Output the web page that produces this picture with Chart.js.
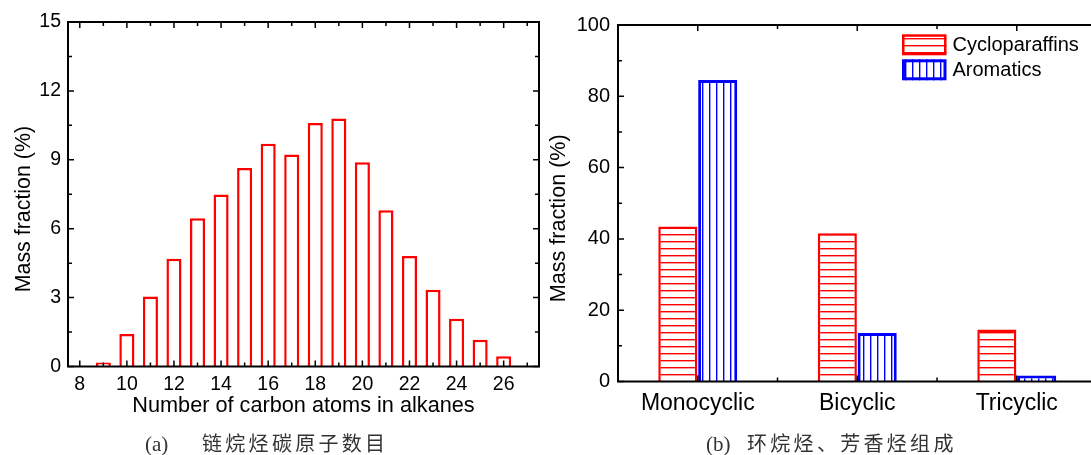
<!DOCTYPE html>
<html>
<head>
<meta charset="utf-8">
<script src="https://cdn.jsdelivr.net/npm/chart.js@4.4.0/dist/chart.umd.min.js"></script>
<style>
  html, body { margin: 0; padding: 0; background: #fff; width: 1091px; height: 455px; overflow: hidden; position: relative; }
  #wrapA { position: absolute; left: 0; top: 0; width: 545px; height: 455px; }
  #wrapB { position: absolute; left: 545px; top: 0; width: 570px; height: 455px; }
  .cap { position: absolute; white-space: nowrap; color: #333; }
  .lat { font-family: 'Liberation Serif', serif; font-size: 21px; line-height: 21px; top: 434px; }
  .cjk { font-family: 'Noto Sans CJK SC', sans-serif; font-size: 20px; line-height: 20px; top: 433px; letter-spacing: 3.3px; }
</style>
</head>
<body>
<div id="wrapA"><canvas id="chartA" width="545" height="455"></canvas></div>
<div id="wrapB"><canvas id="chartB" width="570" height="455"></canvas></div>
<span class="cap lat" style="left:145px">(a)</span>
<span class="cap cjk" style="left:202px">链烷烃碳原子数目</span>
<span class="cap lat" style="left:706px">(b)</span>
<span class="cap cjk" style="left:747px">环烷烃、芳香烃组成</span>
<script>
// (a) alkanes by carbon number
const carbonNumbers = [9, 10, 11, 12, 13, 14, 15, 16, 17, 18, 19, 20, 21, 22, 23, 24, 25, 26];
const alkaneFractions = [0.17, 1.42, 3.05, 4.69, 6.45, 7.49, 8.64, 9.70, 9.23, 10.6, 10.8, 8.89, 6.80, 4.81, 3.34, 2.08, 1.16, 0.45];
const carbonTicks = [8, 10, 12, 14, 16, 18, 20, 22, 24, 26];
const alkaneYTicks = [0, 3, 6, 9, 12, 15];

// (b) cycloparaffins / aromatics
const ringTypes = ['Monocyclic', 'Bicyclic', 'Tricyclic'];
const cycloparaffins = [43.5, 41.6, 14.6];
const aromatics = [84.6, 13.6, 1.7];
const ringYTicks = [0, 20, 40, 60, 80, 100];

const FONT = 'Liberation Sans';
// the axis titles sit a little below the middle of the axis in the original
const Y_TITLE = 'Mass fraction (%)\u00a0\u00a0\u00a0\u00a0\u00a0';

// inward ticks on all four sides + box frame
const framePlugin = {
  id: 'frame',
  afterDatasetsDraw(chart, args, o) {
    const { ctx, chartArea: a, scales: { x, y } } = chart;
    ctx.save();
    ctx.strokeStyle = '#000';
    ctx.lineWidth = 1.5;
    ctx.beginPath();
    const xt = (vals, len) => vals.forEach(v => {
      const p = x.getPixelForValue(v);
      ctx.moveTo(p, a.bottom); ctx.lineTo(p, a.bottom - len);
      ctx.moveTo(p, a.top); ctx.lineTo(p, a.top + len);
    });
    const yt = (vals, len) => vals.forEach(v => {
      const p = y.getPixelForValue(v);
      ctx.moveTo(a.left, p); ctx.lineTo(a.left + len, p);
      ctx.moveTo(a.right, p); ctx.lineTo(a.right - len, p);
    });
    xt(o.xMajor, 6); xt(o.xMinor, 4);
    yt(o.yMajor, 6); yt(o.yMinor, 4);
    ctx.stroke();
    ctx.lineWidth = 2;
    ctx.strokeRect(a.left, a.top, a.right - a.left, a.bottom - a.top);
    ctx.restore();
  }
};

// legend boxes inside the plot, one per row
const boxLegend = {
  id: 'boxLegend',
  afterDraw(chart, args, o) {
    const { ctx, chartArea: a } = chart;
    ctx.save();
    ctx.font = o.fontSize + 'px ' + FONT;
    ctx.textBaseline = 'middle';
    chart.data.datasets.forEach((ds, i) => {
      const bx = a.left + o.x, by = a.top + o.y + i * o.row;
      const lw = ds.borderWidth;
      ctx.fillStyle = ds.backgroundColor;
      ctx.fillRect(bx, by, o.w, o.h);
      ctx.lineWidth = lw;
      ctx.strokeStyle = ds.borderColor;
      ctx.strokeRect(bx + lw / 2, by + lw / 2, o.w - lw, o.h - lw);
      ctx.fillStyle = '#000';
      ctx.fillText(ds.label, bx + o.w + 6, by + o.h / 2 + 1);
    });
    ctx.restore();
  }
};

function midpoints(vals, extra) {
  const out = [];
  for (let i = 0; i < vals.length - 1; i++) out.push((vals[i] + vals[i + 1]) / 2);
  if (extra) out.push(vals[vals.length - 1] + (vals[1] - vals[0]) / 2);
  return out;
}

// white tile with one crisp hatch line
function hatch(ctxTarget, color, vertical, gap) {
  const c = document.createElement('canvas');
  c.width = gap; c.height = gap;
  const g = c.getContext('2d');
  g.fillStyle = '#fff';
  g.fillRect(0, 0, gap, gap);
  g.fillStyle = color;
  if (vertical) g.fillRect(3, 0, 1.4, gap);
  else g.fillRect(0, 3, gap, 1.4);
  return ctxTarget.createPattern(c, 'repeat');
}

// ---------- chart (a) ----------
var ctxA = document.getElementById('chartA').getContext('2d');
new Chart(ctxA, {
  type: 'bar',
  data: {
    datasets: [{
      data: carbonNumbers.map((c, i) => ({ x: c, y: alkaneFractions[i] })),
      backgroundColor: '#ffffff',
      borderColor: '#ff0000',
      borderWidth: 2.5,
      barPercentage: 0.64,
      categoryPercentage: 1
    }]
  },
  options: {
    responsive: false,
    animation: false,
    layout: { padding: { left: 11, top: 22, right: 6, bottom: 36.4 } },
    plugins: {
      legend: { display: false },
      tooltip: { enabled: false },
      frame: {
        xMajor: carbonTicks, xMinor: midpoints(carbonTicks, true),
        yMajor: alkaneYTicks, yMinor: midpoints(alkaneYTicks)
      }
    },
    scales: {
      x: {
        type: 'linear', min: 7.5, max: 27.5, offset: false,
        grid: { display: false, drawTicks: false, offset: false },
        border: { display: false },
        afterBuildTicks: s => { s.ticks = carbonTicks.map(v => ({ value: v })); },
        afterFit: s => { s.height = 52.1; },
        ticks: { color: '#000', font: { family: FONT, size: 19.5 }, padding: 6, maxRotation: 0, autoSkip: false },
        title: { display: true, text: 'Number of carbon atoms in alkanes', color: '#000', font: { family: FONT, size: 21.7 }, padding: 0 }
      },
      y: {
        min: 0, max: 15,
        grid: { display: false, drawTicks: false },
        border: { display: false },
        afterBuildTicks: s => { s.ticks = alkaneYTicks.map(v => ({ value: v })); },
        afterFit: s => { s.width = 57; },
        ticks: { color: '#000', font: { family: FONT, size: 19.5 }, padding: 7 },
        title: { display: true, text: Y_TITLE, color: '#000', font: { family: FONT, size: 21.4 }, padding: 0 }
      }
    }
  },
  plugins: [framePlugin]
});

// ---------- chart (b) ----------
var ctxB = document.getElementById('chartB').getContext('2d');
const ringX = ringTypes.map((t, i) => i + 1);
new Chart(ctxB, {
  type: 'bar',
  data: {
    datasets: [{
      label: 'Cycloparaffins',
      data: ringX.map((x, i) => ({ x: x, y: cycloparaffins[i] })),
      backgroundColor: hatch(ctxB, '#ff0000', false, 7),
      borderColor: '#ff0000',
      borderWidth: 2.5,
      barPercentage: 0.98,
      categoryPercentage: 0.5
    }, {
      label: 'Aromatics',
      data: ringX.map((x, i) => ({ x: x, y: aromatics[i] })),
      backgroundColor: hatch(ctxB, '#0000ff', true, 7),
      borderColor: '#0000ff',
      borderWidth: 3,
      barPercentage: 0.98,
      categoryPercentage: 0.5
    }]
  },
  options: {
    responsive: false,
    animation: false,
    layout: { padding: { left: 1.5, top: 25, right: 10.5, bottom: 33.5 } },
    plugins: {
      legend: { display: false },
      tooltip: { enabled: false },
      boxLegend: { x: 284, y: 9.3, row: 25, w: 44.5, h: 21, fontSize: 20 },
      frame: {
        xMajor: ringX, xMinor: midpoints(ringX),
        yMajor: ringYTicks, yMinor: midpoints(ringYTicks)
      }
    },
    scales: {
      x: {
        type: 'linear', min: 0.5, max: 3.55, offset: false,
        grid: { display: false, drawTicks: false, offset: false },
        border: { display: false },
        afterBuildTicks: s => { s.ticks = ringX.map(v => ({ value: v })); },
        afterFit: s => { s.height = 40; },
        ticks: {
          color: '#000', font: { family: FONT, size: 23 }, padding: 8, maxRotation: 0, autoSkip: false,
          callback: v => ringTypes[v - 1]
        }
      },
      y: {
        min: 0, max: 100,
        grid: { display: false, drawTicks: false },
        border: { display: false },
        afterBuildTicks: s => { s.ticks = ringYTicks.map(v => ({ value: v })); },
        afterFit: s => { s.width = 71.5; },
        ticks: { color: '#000', font: { family: FONT, size: 20 }, padding: 8 },
        title: { display: true, text: Y_TITLE, color: '#000', font: { family: FONT, size: 21.6 }, padding: 0 }
      }
    }
  },
  plugins: [framePlugin, boxLegend]
});
</script>
</body>
</html>
